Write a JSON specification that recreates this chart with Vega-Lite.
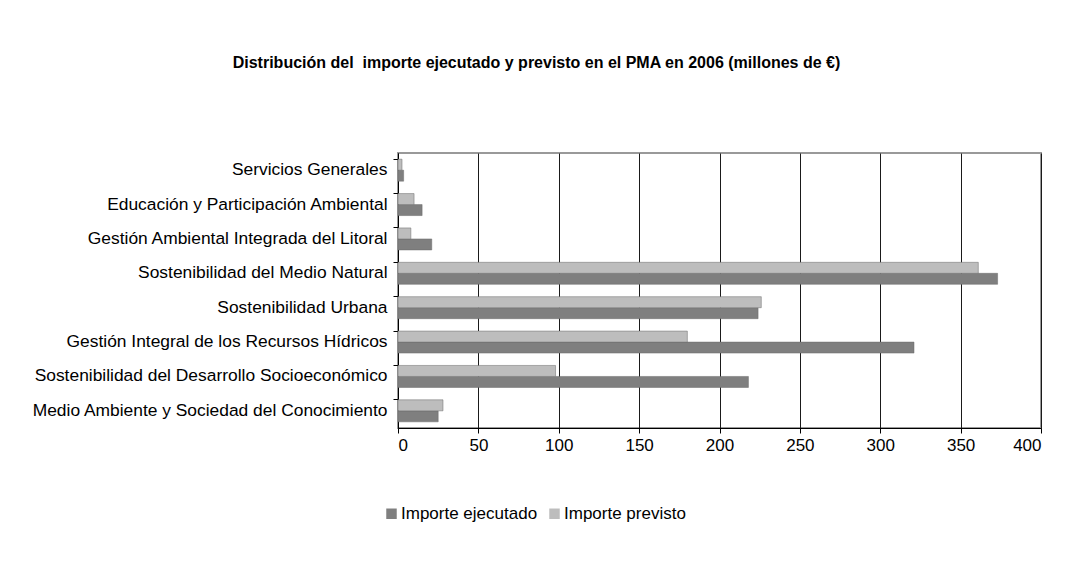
{
  "$schema": "https://vega.github.io/schema/vega-lite/v6.json",
  "autosize": {"type": "none"},
  "width": 643,
  "height": 275,
  "padding": {"left": 398, "top": 153, "right": 32, "bottom": 150},
  "background": "white",
  "title": {
    "text": "Distribución del\u00a0 importe ejecutado y previsto en el PMA en 2006 (millones de €)",
    "anchor": "middle",
    "frame": "group",
    "dx": -183,
    "offset": 82,
    "fontSize": 16,
    "fontWeight": "bold",
    "font": "Liberation Sans",
    "color": "#000000"
  },
  "data": {
    "values": [
      {"area": "Servicios Generales", "serie": "Importe ejecutado", "importe": 3.5},
      {"area": "Servicios Generales", "serie": "Importe previsto", "importe": 2.5},
      {"area": "Educación y Participación Ambiental", "serie": "Importe ejecutado", "importe": 15},
      {"area": "Educación y Participación Ambiental", "serie": "Importe previsto", "importe": 10},
      {"area": "Gestión Ambiental Integrada del Litoral", "serie": "Importe ejecutado", "importe": 21},
      {"area": "Gestión Ambiental Integrada del Litoral", "serie": "Importe previsto", "importe": 8},
      {"area": "Sostenibilidad del Medio Natural", "serie": "Importe ejecutado", "importe": 373},
      {"area": "Sostenibilidad del Medio Natural", "serie": "Importe previsto", "importe": 361},
      {"area": "Sostenibilidad Urbana", "serie": "Importe ejecutado", "importe": 224},
      {"area": "Sostenibilidad Urbana", "serie": "Importe previsto", "importe": 226},
      {"area": "Gestión Integral de los Recursos Hídricos", "serie": "Importe ejecutado", "importe": 321},
      {"area": "Gestión Integral de los Recursos Hídricos", "serie": "Importe previsto", "importe": 180},
      {"area": "Sostenibilidad del Desarrollo Socioeconómico", "serie": "Importe ejecutado", "importe": 218},
      {"area": "Sostenibilidad del Desarrollo Socioeconómico", "serie": "Importe previsto", "importe": 98},
      {"area": "Medio Ambiente y Sociedad del Conocimiento", "serie": "Importe ejecutado", "importe": 25},
      {"area": "Medio Ambiente y Sociedad del Conocimiento", "serie": "Importe previsto", "importe": 28}
    ]
  },
  "mark": {"type": "bar", "stroke": "#6a6a6a", "strokeWidth": 0.5},
  "encoding": {
    "y": {
      "field": "area",
      "type": "nominal",
      "sort": [
        "Servicios Generales",
        "Educación y Participación Ambiental",
        "Gestión Ambiental Integrada del Litoral",
        "Sostenibilidad del Medio Natural",
        "Sostenibilidad Urbana",
        "Gestión Integral de los Recursos Hídricos",
        "Sostenibilidad del Desarrollo Socioeconómico",
        "Medio Ambiente y Sociedad del Conocimiento"
      ],
      "scale": {"paddingInner": 0.36, "paddingOuter": 0.18},
      "axis": {
        "title": null,
        "bandPosition": 0,
        "labelFontSize": 17.4,
        "labelFont": "Liberation Sans",
        "labelColor": "#000000",
        "labelPadding": 6,
        "labelLimit": 500,
        "tickSize": 5,
        "tickColor": "#000000",
        "domainColor": "#000000",
        "grid": false
      }
    },
    "yOffset": {
      "field": "serie",
      "type": "nominal",
      "sort": ["Importe previsto", "Importe ejecutado"]
    },
    "x": {
      "field": "importe",
      "type": "quantitative",
      "scale": {"domain": [0, 400], "nice": false},
      "axis": {
        "title": null,
        "values": [0, 50, 100, 150, 200, 250, 300, 350, 400],
        "labelFontSize": 17,
        "labelFont": "Liberation Sans",
        "labelColor": "#000000",
        "labelPadding": 4,
        "tickSize": 5,
        "tickColor": "#000000",
        "domainColor": "#000000",
        "grid": true,
        "gridColor": "#1a1a1a",
        "gridOpacity": 1,
        "gridWidth": 1
      }
    },
    "color": {
      "field": "serie",
      "type": "nominal",
      "scale": {"domain": ["Importe ejecutado", "Importe previsto"], "range": ["#7f7f7f", "#bdbdbd"]},
      "legend": {
        "title": null,
        "orient": "none",
        "direction": "horizontal",
        "legendX": -15,
        "legendY": 352,
        "symbolType": "square",
        "symbolSize": 110,
        "symbolStrokeWidth": 0,
        "labelFontSize": 17,
        "labelFont": "Liberation Sans",
        "labelColor": "#000000",
        "labelOffset": 1,
        "columnPadding": 8,
        "padding": 0
      }
    }
  },
  "config": {
    "view": {"stroke": "#999999", "strokeWidth": 2},
    "font": "Liberation Sans"
  }
}
